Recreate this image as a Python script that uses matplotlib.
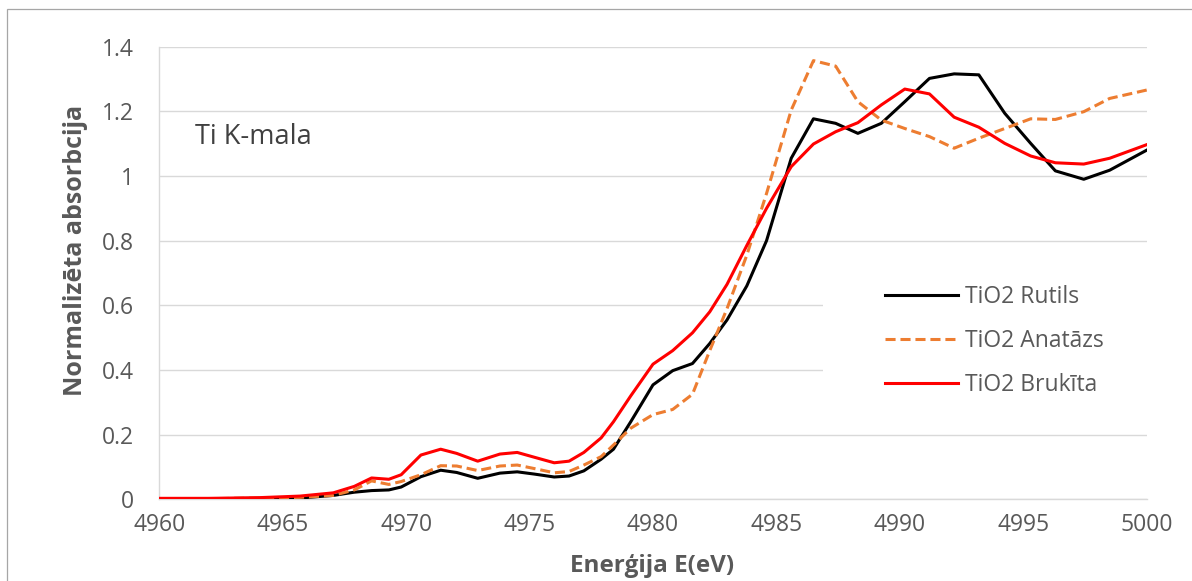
import numpy as np
import matplotlib
matplotlib.use("Agg")
from matplotlib import pyplot as plt
from matplotlib.patches import Rectangle

plt.rcParams['font.family'] = ['Open Sans', 'DejaVu Sans']

# Ti K-edge XANES spectra, energy in eV
energy = [4960, 4962, 4964, 4965.7, 4967.05, 4967.9, 4968.6, 4969.3, 4969.8, 4970.6,
          4971.4, 4972.05, 4972.9, 4973.8, 4974.5, 4975.2, 4976.0, 4976.6, 4977.2, 4977.9,
          4978.4, 4979.1, 4980.0, 4980.8, 4981.6, 4982.3, 4983.0, 4983.8, 4984.6, 4985.6,
          4986.5, 4987.4, 4988.3, 4989.25, 4990.2, 4991.2, 4992.2, 4993.2, 4994.25, 4995.3,
          4996.3, 4997.45, 4998.5, 5000]

rutils = [0.002, 0.002, 0.003, 0.004, 0.012, 0.022, 0.027, 0.029, 0.038, 0.070,
          0.090, 0.083, 0.065, 0.081, 0.085, 0.078, 0.069, 0.072, 0.088, 0.124,
          0.155, 0.240, 0.354, 0.398, 0.420, 0.482, 0.555, 0.660, 0.800, 1.055,
          1.177, 1.163, 1.132, 1.163, 1.230, 1.302, 1.316, 1.313, 1.194, 1.101,
          1.016, 0.990, 1.018, 1.080]

anatazs = [0.002, 0.002, 0.004, 0.006, 0.012, 0.029, 0.057, 0.046, 0.055, 0.076,
           0.104, 0.103, 0.089, 0.103, 0.106, 0.095, 0.082, 0.086, 0.106, 0.132,
           0.168, 0.220, 0.262, 0.278, 0.325, 0.460, 0.590, 0.755, 0.946, 1.204,
           1.357, 1.340, 1.230, 1.173, 1.147, 1.122, 1.086, 1.117, 1.147, 1.177,
           1.175, 1.199, 1.240, 1.266]

brukita = [0.003, 0.003, 0.005, 0.010, 0.020, 0.040, 0.066, 0.062, 0.076, 0.137,
           0.155, 0.142, 0.118, 0.140, 0.145, 0.130, 0.113, 0.118, 0.145, 0.190,
           0.240, 0.320, 0.418, 0.460, 0.515, 0.580, 0.665, 0.785, 0.900, 1.029,
           1.099, 1.137, 1.165, 1.220, 1.269, 1.254, 1.182, 1.151, 1.101, 1.062,
           1.041, 1.037, 1.055, 1.097]

labels = ["TiO2 Rutils", "TiO2 Anatāzs", "TiO2 Brukīta"]
x_ticks = [4960, 4965, 4970, 4975, 4980, 4985, 4990, 4995, 5000]
y_ticks = [0, 0.2, 0.4, 0.6, 0.8, 1.0, 1.2, 1.4]
y_ticklabels = ["0", "0.2", "0.4", "0.6", "0.8", "1", "1.2", "1.4"]

grey = "#595959"
grid_col = "#d9d9d9"

fig = plt.figure(figsize=(11.92, 5.81), dpi=100)
ax = fig.add_axes([0.1336, 0.1406, 0.8284, 0.7790])

# outer chart border (only top and left edges are inside the image)
fig.patches.append(Rectangle((7 / 1192, -0.2), 1.5, 1.2 - 9 / 581,
                             transform=fig.transFigure, fill=False,
                             edgecolor="#a6a6a6", linewidth=0.9))

ax.plot(energy, rutils, color="black", lw=2.2, label=labels[0], zorder=3,
        solid_joinstyle="round")
ax.plot(energy, anatazs, color="#ED7D31", lw=2.2, label=labels[1], zorder=3,
        dashes=(3.3, 1.6), dash_joinstyle="round")
ax.plot(energy, brukita, color="#FF0000", lw=2.2, label=labels[2], zorder=3,
        solid_joinstyle="round")

ax.set_xlim(4960, 5000)
ax.set_ylim(0, 1.4)
ax.set_xticks(x_ticks)
ax.set_yticks(y_ticks)
ax.set_yticklabels(y_ticklabels)
ax.tick_params(length=0, labelsize=16.5, labelcolor=grey)
ax.tick_params(axis="x", pad=10)
ax.tick_params(axis="y", pad=18)

ax.grid(axis="y", color=grid_col, lw=1.0)
ax.set_axisbelow(True)
for s in ["top", "right"]:
    ax.spines[s].set_visible(False)
for s in ["left", "bottom"]:
    ax.spines[s].set_color(grid_col)
    ax.spines[s].set_linewidth(1.0)

fig.text(652 / 1192, 1 - 566 / 581, "Enerģija E(eV)", fontsize=17.5,
         fontweight="bold", color=grey, ha="center", va="center")
fig.text(75 / 1192, 1 - 250 / 581, "Normalizēta absorbcija", fontsize=18,
         fontweight="bold", color=grey, ha="center", va="center", rotation=90)

ax.text(4961.45, 1.122, "Ti K-mala", fontsize=19.5, color="#404040",
        ha="left", va="center")

# white area behind the legend hides the gridlines there
ax.add_patch(Rectangle((4986.9, 0.25), 20, 0.52, facecolor="white",
                       edgecolor="none", zorder=1.5))
leg = ax.legend(loc="center left", bbox_to_anchor=(0.735, 0.35), frameon=False,
                fontsize=16.5, handlelength=3.2, handletextpad=0.3,
                labelspacing=0.88, borderpad=0, borderaxespad=0)
for t in leg.get_texts():
    t.set_color(grey)

fig.savefig("out.png", dpi=100)
